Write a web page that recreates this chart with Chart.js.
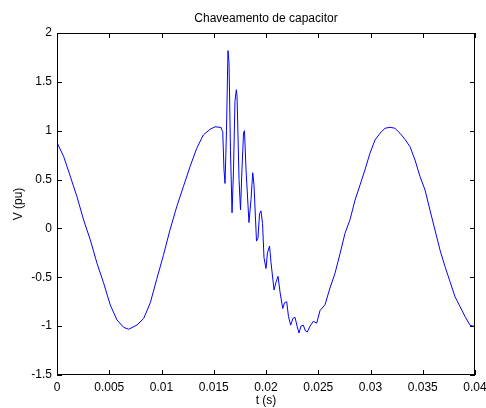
<!DOCTYPE html>
<html>
<head>
<meta charset="utf-8">
<script src="https://cdn.jsdelivr.net/npm/chart.js@4"></script>
<style>
  body { margin: 0; background: #fff; }
</style>
</head>
<body>
<canvas id="chaveamento" width="486" height="408"></canvas>
<script>
// tempo (s) e tensão (pu)
const tSec = [
  0, 0.00064, 0.00128, 0.00191, 0.00255, 0.00319, 0.00383, 0.00447, 0.0051, 0.00574,
  0.00638, 0.00686, 0.00766, 0.0083, 0.00893, 0.00954, 0.01017, 0.01081, 0.01146, 0.01209,
  0.01273, 0.01337, 0.014, 0.01464, 0.01512, 0.0156,
  0.01569, 0.01586, 0.01598, 0.01608, 0.01622, 0.01636, 0.01646, 0.0166, 0.01675, 0.01689,
  0.01703, 0.01716, 0.01723, 0.01742, 0.01756, 0.0177, 0.01785, 0.01794, 0.01809, 0.01837,
  0.01857, 0.01873, 0.01885, 0.01909, 0.01923, 0.01938, 0.01952, 0.01967, 0.01981, 0.02,
  0.02014, 0.02034, 0.02048, 0.02077, 0.02096, 0.02115, 0.02134, 0.0216, 0.02177, 0.02198,
  0.02215, 0.02236, 0.02258, 0.02278, 0.02297, 0.02316, 0.02335, 0.02357, 0.02378, 0.02395,
  0.02421, 0.02453, 0.02485, 0.02517,
  0.02565, 0.02612, 0.0266, 0.02708, 0.02756, 0.02804, 0.02852, 0.029, 0.02947, 0.02995,
  0.03043, 0.03091, 0.03139, 0.03187, 0.03234, 0.03282, 0.0333, 0.03378, 0.03426, 0.03474,
  0.03522, 0.03569, 0.03617, 0.03665, 0.03713, 0.03761, 0.03809, 0.03857, 0.03904, 0.03952, 0.04
];
const vPu = [
  0.878, 0.735, 0.53, 0.325, 0.086, -0.119, -0.357, -0.562, -0.784, -0.937,
  -1.012, -1.032, -0.988, -0.92, -0.76, -0.52, -0.28, -0.016, 0.223, 0.427,
  0.632, 0.82, 0.956, 1.014, 1.04, 1.035,
  1.03, 0.99, 0.6, 0.46, 1.0, 1.82, 1.7, 0.8, 0.16, 0.6,
  1.3, 1.42, 1.35, 0.5, 0.19, 0.6, 0.98, 1.0, 0.6, 0.06,
  0.3, 0.57, 0.45, -0.13, -0.1, 0.15, 0.18, 0.05, -0.3, -0.41,
  -0.25, -0.18, -0.35, -0.63, -0.55, -0.49, -0.65, -0.82, -0.76, -0.75,
  -0.9, -0.99, -0.92, -0.91, -1.0, -1.07, -1.0, -0.99, -1.05, -1.06,
  -1.0, -0.95, -0.97, -0.84,
  -0.78, -0.61, -0.46, -0.26, -0.05, 0.09, 0.29, 0.445, 0.6, 0.77,
  0.905, 0.974, 1.025, 1.035, 1.025, 0.974, 0.912, 0.836, 0.7, 0.53,
  0.393, 0.188, -0.016, -0.22, -0.39, -0.545, -0.7, -0.8, -0.9, -0.99, -1.005
];

const font = { family: '"Liberation Sans", Arial, sans-serif', size: 12 };

// caixa preta com marcas de escala para dentro (estilo MATLAB)
const frame = {
  id: 'frame',
  afterDatasetsDraw(chart) {
    const { ctx, chartArea: a, scales: { x, y } } = chart;
    ctx.save();
    ctx.strokeStyle = '#000';
    ctx.lineWidth = 1;
    ctx.beginPath();
    x.ticks.forEach(t => {
      const px = Math.round(x.getPixelForValue(t.value)) + 0.5;
      ctx.moveTo(px, a.bottom); ctx.lineTo(px, a.bottom - 5);
      ctx.moveTo(px, a.top); ctx.lineTo(px, a.top + 5);
    });
    y.ticks.forEach(t => {
      const py = Math.round(y.getPixelForValue(t.value)) + 0.5;
      ctx.moveTo(a.left, py); ctx.lineTo(a.left + 5, py);
      ctx.moveTo(a.right, py); ctx.lineTo(a.right - 5, py);
    });
    ctx.stroke();
    ctx.strokeRect(a.left + 0.5, a.top + 0.5, a.right - a.left - 1, a.bottom - a.top - 1);
    ctx.restore();
  }
};

new Chart(document.getElementById('chaveamento'), {
  type: 'line',
  data: {
    datasets: [{
      data: tSec.map((t, i) => ({ x: t, y: vPu[i] })),
      borderColor: '#0000ff',
      borderWidth: 1,
      pointRadius: 0,
      tension: 0,
      fill: false
    }]
  },
  options: {
    responsive: false,
    devicePixelRatio: 1,
    animation: false,
    layout: { padding: { left: 0, right: 11, top: 0, bottom: 0 } },
    plugins: {
      legend: { display: false },
      tooltip: { enabled: false },
      title: {
        display: true,
        text: 'Chaveamento de capacitor',
        fullSize: false,
        color: '#000',
        font: { ...font, weight: 'normal' },
        padding: { top: 11, bottom: 7.6 }
      }
    },
    scales: {
      x: {
        type: 'linear',
        min: 0,
        max: 0.04,
        grid: { display: false, drawTicks: false },
        border: { display: false },
        ticks: {
          stepSize: 0.005,
          autoSkip: false,
          maxRotation: 0,
          color: '#000',
          font: font,
          padding: 5,
          callback: v => String(+v.toFixed(3))
        },
        title: { display: true, text: 't (s)', color: '#000', font: font, padding: { top: 0, bottom: 0 } },
        afterFit(scale) { scale.height = 33; scale.paddingLeft = 0; scale.paddingRight = 0; }
      },
      y: {
        min: -1.5,
        max: 2,
        grid: { display: false, drawTicks: false },
        border: { display: false },
        ticks: {
          stepSize: 0.5,
          color: '#000',
          font: font,
          padding: 5,
          callback: v => String(+v.toFixed(1))
        },
        title: { display: true, text: 'V (pu)', color: '#000', font: font, padding: { top: 11, bottom: 0 } },
        afterFit(scale) { scale.width = 57; scale.paddingTop = 0; scale.paddingBottom = 0; }
      }
    }
  },
  plugins: [frame]
});
</script>
</body>
</html>
